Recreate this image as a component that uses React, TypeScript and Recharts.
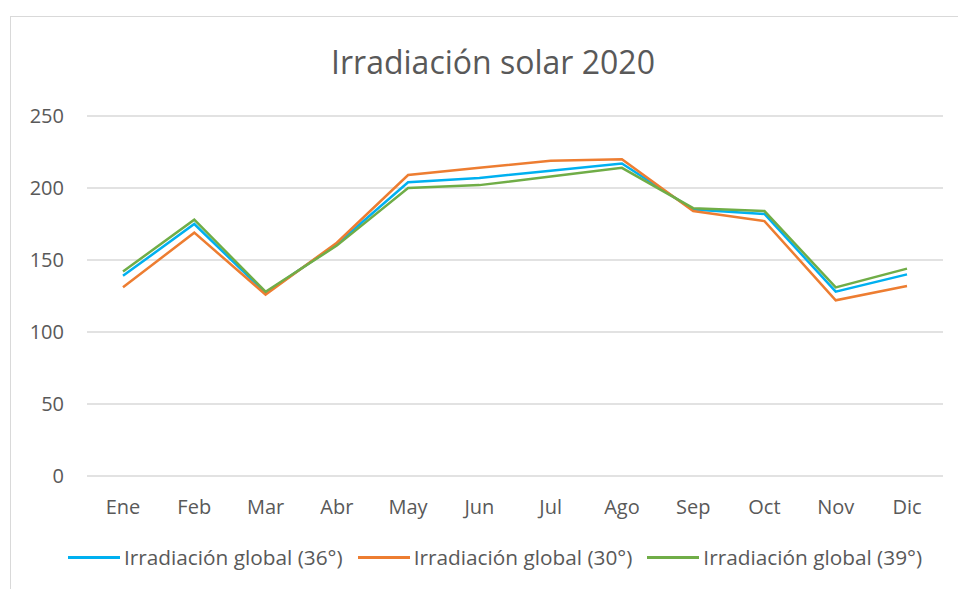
import { LineChart, Line, XAxis, YAxis, CartesianGrid, Legend } from "recharts";

const months = ["Ene", "Feb", "Mar", "Abr", "May", "Jun", "Jul", "Ago", "Sep", "Oct", "Nov", "Dic"];
const global36 = [139, 175, 127, 161, 204, 207, 212, 217, 185, 182, 128, 140];
const global30 = [131, 169, 126, 162, 209, 214, 219, 220, 184, 177, 122, 132];
const global39 = [142, 178, 128, 160, 200, 202, 208, 214, 186, 184, 131, 144];
const yTicks = [0, 50, 100, 150, 200, 250];

const series = [
  { key: "g36", name: "Irradiación global (36°)", color: "#00B0F0" },
  { key: "g30", name: "Irradiación global (30°)", color: "#ED7D31" },
  { key: "g39", name: "Irradiación global (39°)", color: "#70AD47" },
];

const data = months.map((m, i) => ({
  month: m,
  g36: global36[i],
  g30: global30[i],
  g39: global39[i],
}));

const font = "'Open Sans', sans-serif";
const textColor = "#595959";

// keep legend in series order (recharts sorts by name otherwise)
function LegendRow({ payload }: { payload?: any[] }) {
  const items = [...(payload || [])].sort(
    (a, b) => series.findIndex((s) => s.name === a.value) - series.findIndex((s) => s.name === b.value)
  );
  return (
    <div style={{ display: "flex", justifyContent: "center", alignItems: "center", gap: 15, fontFamily: font, fontSize: 20.8, color: textColor }}>
      {items.map((p) => (
        <div key={p.value} style={{ display: "flex", alignItems: "center" }}>
          <div style={{ width: 52, height: 3, background: p.color, marginRight: 4 }} />
          <span>{p.value}</span>
        </div>
      ))}
    </div>
  );
}

export default function App() {
  return (
    <div style={{ position: "absolute", left: 0, top: 0, width: 958, height: 589, overflow: "hidden", background: "#fff" }}>
      <div style={{ position: "absolute", left: 10, top: 16, width: 1000, height: 620, border: "1px solid #d9d9d9" }} />
      <div style={{ position: "absolute", left: 0, top: 40, width: 986, textAlign: "center", fontFamily: font, fontSize: 32, color: textColor }}>
        Irradiación solar 2020
      </div>
      <div style={{ position: "absolute", left: 0, top: 0 }}>
        <LineChart width={958} height={589} data={data} margin={{ top: 116, right: 15, bottom: 83, left: 0 }}>
          <CartesianGrid horizontal vertical={false} stroke="#d9d9d9" strokeWidth={1.5} />
          <XAxis
            dataKey="month"
            height={30}
            padding={{ left: 36, right: 36 }}
            tickLine={false}
            axisLine={false}
            tickSize={0}
            tickMargin={24}
            tick={{ fill: textColor, fontSize: 20, fontFamily: font }}
          />
          <YAxis
            width={87}
            domain={[0, 250]}
            ticks={yTicks}
            tickLine={false}
            axisLine={false}
            tickSize={0}
            tickMargin={23}
            tick={{ fill: textColor, fontSize: 20, fontFamily: font }}
          />
          <Legend
            verticalAlign="middle"
            layout="horizontal"
            wrapperStyle={{ top: 543, left: 16, width: 958 }}
            content={(props: any) => <LegendRow payload={props.payload} />}
          />
          {series.map((s) => (
            <Line
              key={s.key}
              type="linear"
              dataKey={s.key}
              name={s.name}
              stroke={s.color}
              strokeWidth={2.5}
              dot={false}
              activeDot={false}
              isAnimationActive={false}
            />
          ))}
        </LineChart>
      </div>
    </div>
  );
}
